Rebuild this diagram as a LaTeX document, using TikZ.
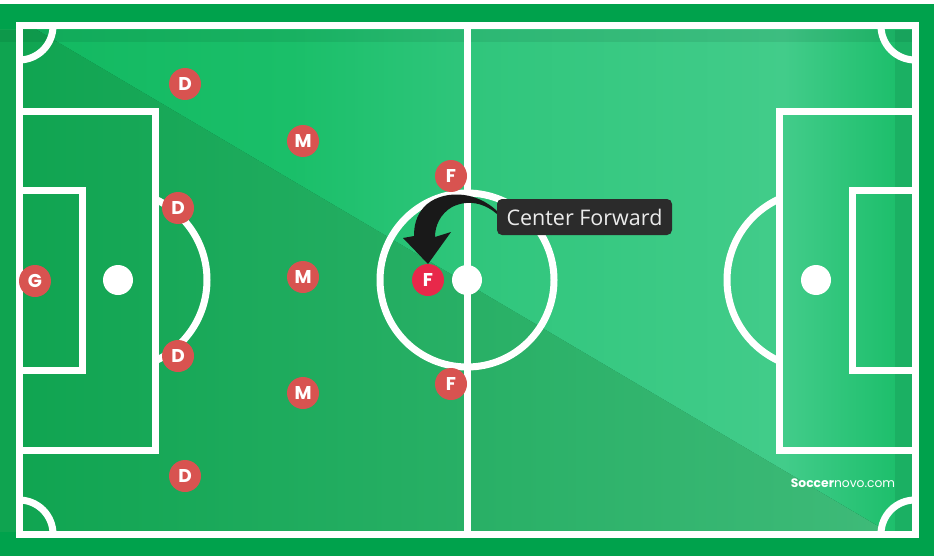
\documentclass[tikz,border=0pt]{standalone}
\usepackage{fontspec}
\setmainfont{Open Sans}
\newfontfamily\popfont{Poppins}
\definecolor{border}{HTML}{00A24C}
\definecolor{pred}{HTML}{D85350}
\definecolor{cfred}{HTML}{E8284A}
\definecolor{tipbg}{HTML}{2B2B2B}
\definecolor{ua}{HTML}{12B860}
\definecolor{ub}{HTML}{1ABF69}
\definecolor{uc}{HTML}{30C67C}
\definecolor{ud}{HTML}{42CC8A}
\definecolor{ue}{HTML}{1EBF6C}
\definecolor{la}{HTML}{0FA450}
\definecolor{lb}{HTML}{40BB7A}
\pgfdeclarehorizontalshading{upperfield}{100bp}{%
  color(0bp)=(ua);
  color(25bp)=(ua);
  color(41bp)=(ub);
  color(51bp)=(uc);
  color(68bp)=(ud);
  color(74bp)=(ue);
  color(100bp)=(ue)}
\tikzset{
  fieldline/.style={white, line width=7pt},
  spot/.style={white, fill=white},
  player/.style={circle, fill=pred, minimum size=32pt, inner sep=0pt, text=white,
    font=\popfont\bfseries\fontsize{18.5}{18.5}\selectfont},
  cfplayer/.style={player, fill=cfred},
  tipbox/.style={fill=tipbg, rounded corners=5pt, minimum width=175pt, minimum height=36pt,
    inner sep=0pt, text=white!92!black, font=\fontsize{21.5}{23}\selectfont},
  wmark/.style={text=white, font=\popfont\fontsize{12.3}{12.3}\selectfont}
}
\begin{document}
\begin{tikzpicture}[x=1pt,y=-1pt]
\useasboundingbox (0,0) rectangle (936,559);
\fill[white] (0,0) rectangle (936,559);
\fill[border] (0,4) rectangle (934,556);
% field colours
\begin{scope}
\clip (0,30) rectangle (912,531);
\fill[left color=la, right color=lb] (0,8) -- (912,546) -- (912,560) -- (0,560) -- cycle;
\end{scope}
\begin{scope}
\clip (0,30) rectangle (912,531);
\shade[shading=upperfield] (0,0) -- (912,0) -- (912,546) -- (0,8) -- cycle;
\fill[black, opacity=0.07] (0,30) rectangle (912,42);
\fill[black, opacity=0.08] (895,30) rectangle (912,531);
\end{scope}
% lines
\draw[fieldline] (19,26) rectangle (915,534);
\draw[fieldline] (467,26) -- (467,534);
\draw[fieldline] (467,280) circle[radius=87];
\fill[spot] (467,280) circle[radius=15];
% left side
\draw[fieldline] (19,112) rectangle (155,450);
\draw[fieldline] (19,190) rectangle (82,370);
\fill[spot] (118,280) circle[radius=15];
\begin{scope}
\clip (155,0) rectangle (300,559);
\draw[fieldline] (118,280) circle[radius=89];
\end{scope}
% right side
\draw[fieldline] (779,112) rectangle (915,450);
\draw[fieldline] (852,190) rectangle (915,370);
\fill[spot] (816,280) circle[radius=15];
\begin{scope}
\clip (779,0) rectangle (600,559);
\draw[fieldline] (816,280) circle[radius=89];
\end{scope}
% corner arcs
\begin{scope}
\clip (19,26) rectangle (915,534);
\draw[fieldline] (19,26) circle[radius=34];
\draw[fieldline] (915,26) circle[radius=34];
\draw[fieldline] (19,534) circle[radius=34];
\draw[fieldline] (915,534) circle[radius=34];
\end{scope}
% players
\node[player] (g) at (35,281) {G};
\node[player] (d1) at (185,84) {D};
\node[player] (d2) at (178,208) {D};
\node[player] (d3) at (178,356) {D};
\node[player] (d4) at (185,476) {D};
\node[player] (m1) at (303,141) {M};
\node[player] (m2) at (303,277) {M};
\node[player] (m3) at (303,393) {M};
\node[player] (f1) at (451,176) {F};
\node[cfplayer] (f2) at (428,280) {F};
\node[player] (f3) at (451,384) {F};
% arrow
\fill[black!90] (498,212) .. controls (475,189) and (440,190) .. (424,207)
  .. controls (416,216) and (414,226) .. (414,236) -- (403,238) -- (428,264) -- (451,232) -- (435,237)
  .. controls (435,226) and (440,214) .. (452,207)
  .. controls (468,199) and (485,203) .. (498,215) -- cycle;
% tooltip
\node[tipbox] (cf) at (584.5,217) {Center Forward};
% watermark
\node[wmark] (wm) at (843,483) {\textbf{Soccer}novo.com};
\end{tikzpicture}
\end{document}
